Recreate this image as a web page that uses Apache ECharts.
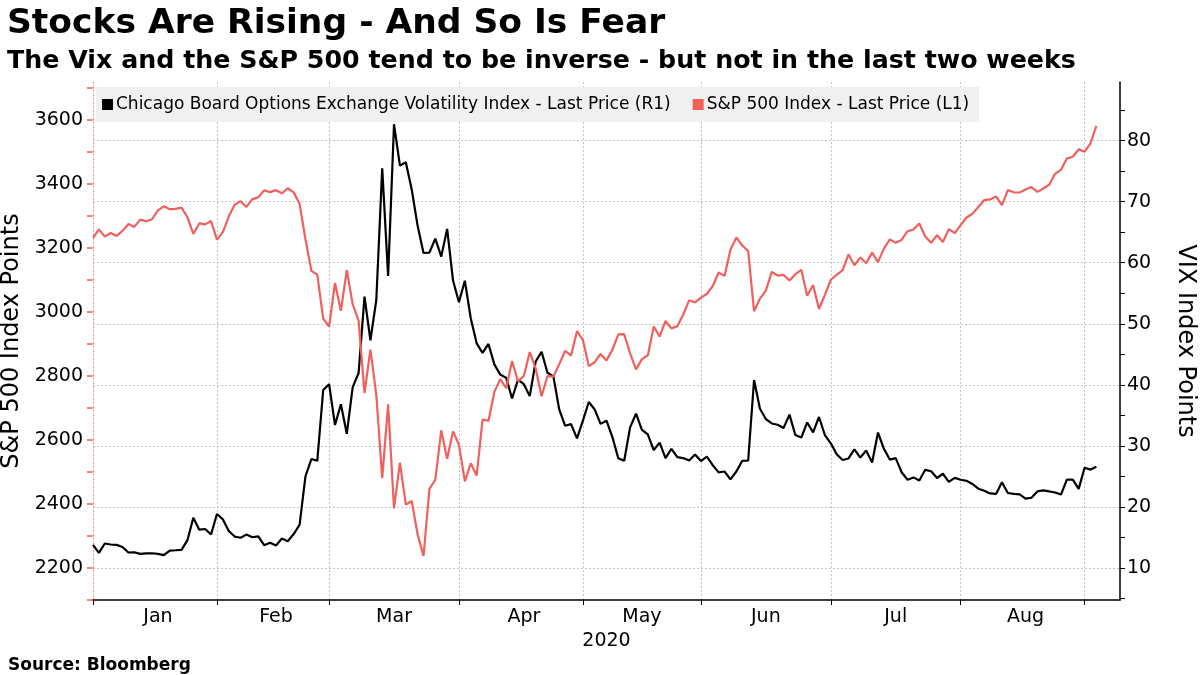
<!DOCTYPE html>
<html>
<head>
<meta charset="utf-8">
<title>Stocks Are Rising - And So Is Fear</title>
<script src="https://cdn.jsdelivr.net/npm/echarts@6/dist/echarts.min.js"></script>
<style>
  html, body { margin: 0; padding: 0; background: #fff; }
  #main { width: 1200px; height: 675px; }
</style>
</head>
<body>
<div id="main"></div>
<script>
// trading days shown on the axis (Dec 31 2019 .. Sep 2 2020, plus a few empty days)
var monthNames = ['Jan', 'Feb', 'Mar', 'Apr', 'May', 'Jun', 'Jul', 'Aug'];
var dec19 = [31];
var jan = [2,3,6,7,8,9,10,13,14,15,16,17,21,22,23,24,27,28,29,30,31];
var feb = [3,4,5,6,7,10,11,12,13,14,18,19,20,21,24,25,26,27,28];
var mar = [2,3,4,5,6,9,10,11,12,13,16,17,18,19,20,23,24,25,26,27,30,31];
var apr = [1,2,3,6,7,8,9,13,14,15,16,17,20,21,22,23,24,27,28,29,30];
var may = [1,4,5,6,7,8,11,12,13,14,15,18,19,20,21,22,26,27,28,29];
var jun = [1,2,3,4,5,8,9,10,11,12,15,16,17,18,19,22,23,24,25,26,29,30];
var jul = [1,2,6,7,8,9,10,13,14,15,16,17,20,21,22,23,24,27,28,29,30,31];
var aug = [3,4,5,6,7,10,11,12,13,14,17,18,19,20,21,24,25,26,27,28,31];
var sep = [1,2,3,4,8,9];

// S&P 500 Index - Last Price (L1)
var spx = [
  3230.78,
  3257.85,3234.85,3246.28,3237.18,3253.05,3274.70,3265.35,3288.13,3283.15,3289.29,3316.81,3329.62,3320.79,3321.75,3325.54,3295.47,3243.63,3276.24,3273.40,3283.66,3225.52,
  3248.92,3297.59,3334.69,3345.78,3327.71,3352.09,3357.75,3379.45,3373.94,3380.16,3370.29,3386.15,3373.23,3337.75,3225.89,3128.21,3116.39,2978.76,2954.22,
  3090.23,3003.37,3130.12,3023.94,2972.37,2746.56,2882.23,2741.38,2480.64,2711.02,2386.13,2529.19,2398.10,2409.39,2304.92,2237.40,2447.33,2475.56,2630.07,2541.47,2626.65,2584.59,
  2470.50,2526.90,2488.65,2663.68,2659.41,2749.98,2789.82,2761.63,2846.06,2783.36,2799.55,2874.56,2823.16,2736.56,2799.31,2797.80,2836.74,2878.48,2863.39,2939.51,2912.43,
  2830.71,2842.74,2868.44,2848.42,2881.19,2929.80,2930.19,2870.12,2820.00,2852.50,2863.70,2953.91,2922.94,2971.61,2948.51,2955.45,2991.77,3036.13,3029.73,3044.31,
  3055.73,3080.82,3122.87,3112.35,3193.93,3232.39,3207.18,3190.14,3002.10,3041.31,3066.59,3124.74,3113.49,3115.34,3097.74,3117.86,3131.29,3050.33,3083.76,3009.05,3053.24,3100.29,
  3115.86,3130.01,3179.72,3145.32,3169.94,3152.05,3185.04,3155.22,3197.52,3226.56,3215.57,3224.73,3251.84,3257.30,3276.02,3235.66,3215.63,3239.41,3218.44,3258.44,3246.22,3271.12,
  3294.61,3306.51,3327.77,3349.16,3351.28,3360.47,3333.69,3380.35,3373.43,3372.85,3381.99,3389.78,3374.85,3385.51,3397.16,3431.28,3443.62,3478.73,3484.55,3508.01,3500.31,
  3526.65,3580.84
];

// Chicago Board Options Exchange Volatility Index - Last Price (R1)
var vix = [
  13.78,
  12.47,14.02,13.85,13.79,13.45,12.54,12.56,12.32,12.39,12.42,12.32,12.10,12.85,12.91,12.98,14.56,18.23,16.28,16.39,15.49,18.84,
  17.97,16.05,15.15,14.96,15.47,15.04,15.18,13.74,14.15,13.68,14.83,14.38,15.56,17.08,25.03,27.85,27.56,39.16,40.11,
  33.42,36.82,31.99,39.62,41.94,54.46,47.30,53.90,75.47,57.83,82.69,75.91,76.45,72.00,66.04,61.59,61.67,63.95,61.00,65.54,57.08,53.54,
  57.06,50.91,46.80,45.24,46.70,43.35,41.67,41.17,37.76,40.84,40.11,38.15,43.83,45.41,41.98,41.38,35.93,33.29,33.57,31.23,34.15,
  37.19,35.97,33.61,34.12,31.44,27.98,27.57,33.04,35.28,32.61,31.89,29.30,30.53,27.99,29.53,28.16,28.01,27.62,28.59,27.51,
  28.23,26.84,25.66,25.81,24.52,25.81,27.57,27.57,40.79,36.09,34.40,33.67,33.47,32.94,35.12,31.77,31.37,33.84,32.22,34.73,31.78,30.43,
  28.62,27.68,27.94,29.43,28.08,29.26,27.29,32.19,29.52,27.76,28.00,25.68,24.46,24.84,24.32,26.08,25.84,24.74,25.44,24.10,24.76,24.46,
  24.28,23.76,22.99,22.65,22.21,22.14,24.03,22.28,22.13,22.05,21.35,21.51,22.54,22.72,22.54,22.37,22.03,24.47,24.47,22.96,26.41,
  26.12,26.57
];

// tick labels
var spxTicks = [2200, 2400, 2600, 2800, 3000, 3200, 3400, 3600];
var spxMinor = [2100, 2200, 2300, 2400, 2500, 2600, 2700, 2800, 2900, 3000, 3100, 3200, 3300, 3400, 3500, 3600, 3700];
var vixTicks = [10, 20, 30, 40, 50, 60, 70, 80];
var vixMinor = [5, 10, 15, 20, 25, 30, 35, 40, 45, 50, 55, 60, 65, 70, 75, 80, 85];

var RED = '#f0605d';
var FONT = 'DejaVu Sans';

// build the category list and month boundaries
var months = [dec19, jan, feb, mar, apr, may, jun, jul, aug, sep];
var monthNums = ['12', '01', '02', '03', '04', '05', '06', '07', '08', '09'];
var dates = [];
var monthEnds = [];
months.forEach(function (days, m) {
  days.forEach(function (d) {
    dates.push((m === 0 ? '2019-' : '2020-') + monthNums[m] + '-' + (d < 10 ? '0' + d : d));
  });
  if (m < months.length - 1) monthEnds.push(dates.length - 1);
});
var labelAt = {};
for (var i = 0; i < monthNames.length; i++) {
  labelAt[Math.round((monthEnds[i] + monthEnds[i + 1]) / 2)] = monthNames[i];
}

var myChart = echarts.init(document.getElementById('main'));
var option = {
  animation: false,
  backgroundColor: '#fff',
  textStyle: { fontFamily: FONT },
  title: [
    {
      text: 'Stocks Are Rising - And So Is Fear',
      left: 2, top: 2,
      textStyle: { fontFamily: FONT, fontSize: 34.5, fontWeight: 'bold', color: '#000' }
    },
    {
      text: 'The Vix and the S&P 500 tend to be inverse - but not in the last two weeks',
      left: 2, top: 44,
      textStyle: { fontFamily: FONT, fontSize: 25.3, fontWeight: 'bold', color: '#000' }
    },
    {
      text: 'Source: Bloomberg',
      left: 3, top: 652,
      textStyle: { fontFamily: FONT, fontSize: 17, fontWeight: 'bold', color: '#000' }
    }
  ],
  legend: {
    left: 96, top: 87,
    backgroundColor: '#f0f0f0',
    padding: [9, 10, 9, 6],
    itemWidth: 11, itemHeight: 11, itemGap: 22,
    icon: 'rect',
    textStyle: { fontFamily: FONT, fontSize: 17, color: '#000', padding: [0, 0, 0, -2] },
    data: ['Chicago Board Options Exchange Volatility Index - Last Price (R1)', 'S&P 500 Index - Last Price (L1)']
  },
  grid: { left: 93, right: 80, top: 82, bottom: 75, outerBoundsMode: 'none', containLabel: false },
  xAxis: {
    type: 'category',
    data: dates,
    boundaryGap: false,
    name: '2020',
    nameLocation: 'middle',
    nameGap: 29,
    nameTextStyle: { fontFamily: FONT, fontSize: 19, color: '#000' },
    axisLine: { lineStyle: { color: '#000', width: 1.5 } },
    axisTick: {
      interval: function (idx) { return monthEnds.indexOf(idx) >= 0; },
      length: 5,
      lineStyle: { color: '#000' }
    },
    axisLabel: {
      interval: function (idx) { return labelAt[idx] !== undefined; },
      formatter: function (v, idx) { return labelAt[idx] || ''; },
      fontFamily: FONT, fontSize: 19, color: '#000', margin: 8
    },
    splitLine: {
      show: true,
      interval: function (idx) { return idx > 0 && monthEnds.indexOf(idx) >= 0; },
      lineStyle: { color: '#c4c4c4', type: [2, 2], width: 1 }
    }
  },
  yAxis: [
    {
      type: 'value',
      position: 'left',
      min: 2100, max: 3718,
      name: 'S&P 500 Index Points',
      nameLocation: 'middle',
      nameGap: 60,
      nameTextStyle: { fontFamily: FONT, fontSize: 24, color: '#000' },
      axisLine: { show: true, lineStyle: { color: '#f4a09e', type: [2, 2], width: 1 } },
      axisTick: { show: true, customValues: spxMinor, length: 6, lineStyle: { color: RED, width: 1.5 } },
      axisLabel: {
        customValues: spxTicks,
        formatter: function (v) { return String(v); },
        fontFamily: FONT, fontSize: 19, color: '#000', margin: 10
      },
      splitLine: { show: false }
    },
    {
      type: 'value',
      position: 'right',
      min: 4.76, max: 89.6,
      name: 'VIX Index Points',
      nameLocation: 'middle',
      nameGap: 53,
      nameRotate: -90,
      nameTextStyle: { fontFamily: FONT, fontSize: 24, color: '#000' },
      axisLine: { show: true, lineStyle: { color: '#000', width: 1.5 } },
      axisTick: { show: true, customValues: vixMinor, length: 5, lineStyle: { color: '#000' } },
      axisLabel: {
        customValues: vixTicks,
        formatter: function (v) { return String(v); },
        fontFamily: FONT, fontSize: 19, color: '#000', margin: 7
      },
      splitLine: {
        show: true,
        lineStyle: { color: ['rgba(0,0,0,0)', '#c4c4c4'], type: [2, 2], width: 1 }
      }
    }
  ],
  series: [
    {
      name: 'Chicago Board Options Exchange Volatility Index - Last Price (R1)',
      type: 'line',
      yAxisIndex: 1,
      data: vix,
      symbol: 'none',
      itemStyle: { color: '#000' },
      lineStyle: { color: '#000', width: 2.2 }
    },
    {
      name: 'S&P 500 Index - Last Price (L1)',
      type: 'line',
      yAxisIndex: 0,
      data: spx,
      symbol: 'none',
      itemStyle: { color: RED },
      lineStyle: { color: RED, width: 2.2 }
    }
  ]
};
myChart.setOption(option);
</script>
</body>
</html>
